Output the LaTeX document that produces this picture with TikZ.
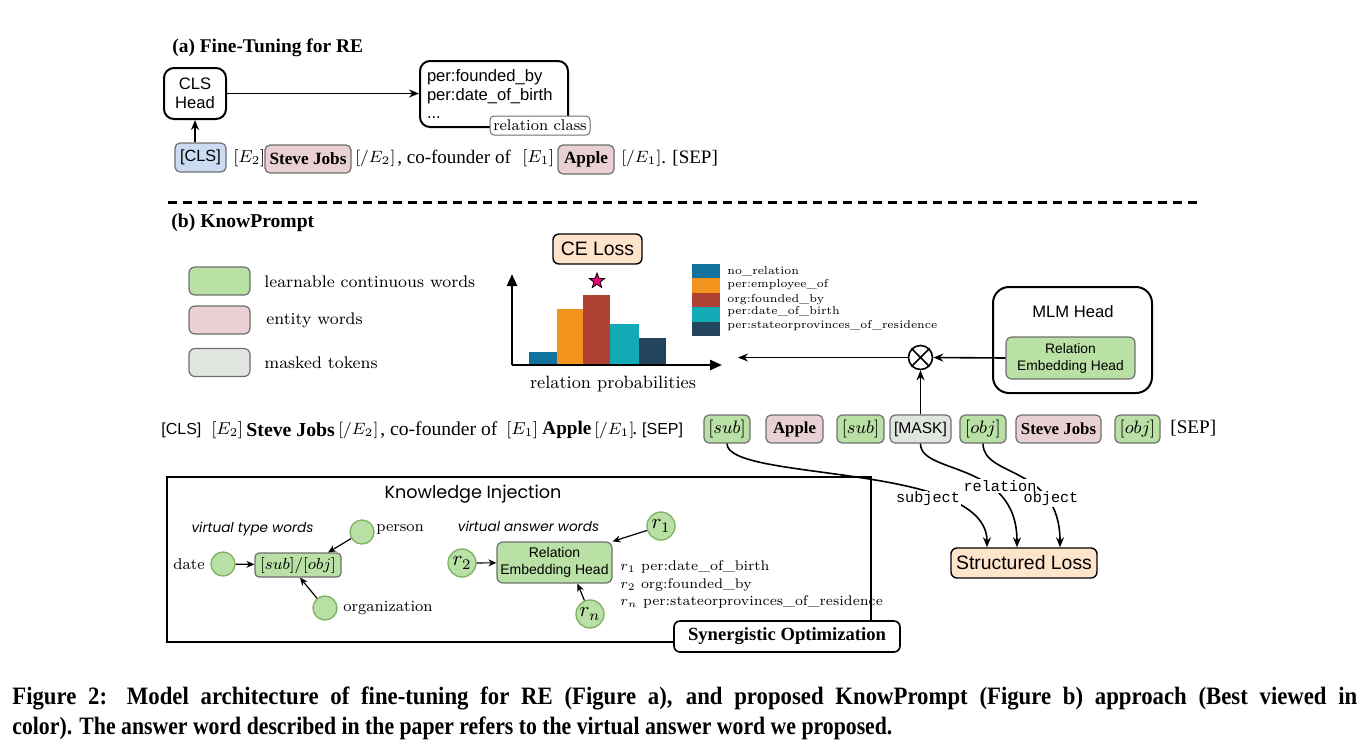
\RequirePackage{fix-cm}
\documentclass[tikz,border=0pt]{standalone}
\usepackage{fontspec}
\usepackage{graphicx}
\usetikzlibrary{arrows.meta,shapes.geometric}
\newfontfamily\helv{Liberation Sans}
\newfontfamily\tms{Liberation Serif}
\newfontfamily\cmc{Poppins}
\setmonofont{Liberation Mono}
\newcommand{\fsize}[2]{\fontsize{#1}{#2}\selectfont}
\definecolor{lgreen}{HTML}{B9E0A5}
\definecolor{lpink}{HTML}{E9D0D2}
\definecolor{lgray}{HTML}{E0E5DF}
\definecolor{lblue}{HTML}{CADBF2}
\definecolor{peach}{HTML}{FFE4CC}
\definecolor{tokborder}{HTML}{6E6E6E}
\definecolor{circborder}{HTML}{82B366}
\definecolor{barblue}{HTML}{10739E}
\definecolor{barorange}{HTML}{F2931E}
\definecolor{barred}{HTML}{AE4132}
\definecolor{barteal}{HTML}{12AAB5}
\definecolor{barnavy}{HTML}{23445D}
\definecolor{starpink}{HTML}{E6007E}
\begin{document}
\begin{tikzpicture}[x=0.5pt,y=-0.5pt,
  every node/.style={inner sep=0pt},
  txt/.style={anchor=west},
  tok/.style={draw=tokborder, line width=0.6pt, rounded corners=2.5pt, minimum height=14pt},
  greentok/.style={tok, fill=lgreen},
  pinktok/.style={tok, fill=lpink},
  graytok/.style={tok, fill=lgray},
  bluetok/.style={tok, fill=lblue},
  headbox/.style={draw, line width=1pt, rounded corners=5pt},
  lossbox/.style={draw, line width=0.7pt, rounded corners=3pt, fill=peach, font=\helv\fsize{9.7}{11}},
  vcirc/.style={circle, draw=circborder, fill=lgreen, line width=0.7pt},
  arr/.style={-{Stealth[length=5pt,width=4pt]}, line width=0.8pt},
  arrsmall/.style={-{Stealth[length=4pt,width=3.5pt]}, line width=0.6pt},
  axis/.style={-{Triangle[length=6pt,width=5pt]}, line width=1.2pt},
  flowlab/.style={fill=white, inner sep=0.5pt, font=\ttfamily\fsize{7.6}{9}},
  captxt/.style={anchor=west, font=\tms\bfseries\fsize{12.5}{14}},
  ]
\useasboundingbox (0,0) rectangle (1367,752);

% (a) fine-tuning
\node[txt, font=\tms\bfseries\fsize{9.7}{11}] (titlea) at (172,48) {(a) Fine-Tuning for RE};
\node[headbox, minimum width=31pt, minimum height=25.5pt, align=center, font=\helv\fsize{8.3}{9.5}] (clshead) at (195,93.5) {CLS\\Head};
\node[headbox, minimum width=74pt, minimum height=33pt, text width=67pt, align=left, font=\helv\fsize{8.3}{9.3}] (relset) at (494,94) {per:founded\_by\\per:date\_of\_birth\\...};
\node[draw=tokborder, fill=white, line width=0.5pt, rounded corners=2pt, minimum width=50pt, minimum height=9.5pt, font=\fsize{7.75}{9}] (relclass) at (540,125.5) {relation class};

\node[bluetok, minimum width=25.5pt, minimum height=14.5pt, font=\helv\fsize{8.1}{10}] (clsa) at (200.5,157.5) {[CLS]};
\node[txt, font=\fsize{8.6}{10}] (etwoa) at (233,158) {$[E_2]$};
\node[pinktok, minimum width=43pt, font=\tms\bfseries\fsize{8.6}{10}] (stevea) at (308,159) {Steve Jobs};
\node[txt, font=\fsize{8.2}{10}] (etwoenda) at (355,158) {$[/E_2]$};
\node[txt, font=\tms\fsize{9.5}{11}] (cofoundera) at (397,158) {, co-founder of};
\node[txt, font=\fsize{8.6}{10}] (eonea) at (522,158) {$[E_1]$};
\node[pinktok, minimum width=28pt, minimum height=14.5pt, font=\tms\bfseries\fsize{8.6}{10}] (applea) at (586,159.5) {Apple};
\node[txt, font=\fsize{8.2}{10}] (eoneenda) at (621,158) {$[/E_1]$};
\node[txt, font=\tms\fsize{9.5}{11}] (sepa) at (661,158) {. [SEP]};

\draw[arr] (clsa.north -| clshead.south) -- (clshead.south);
\draw[arr] (clshead.east) -- (clshead.east -| relset.west);

\draw[line width=1.5pt, dash pattern=on 4.5pt off 3pt] (168,202) -- (1197,202);

% (b) knowprompt
\node[txt, font=\tms\bfseries\fsize{9.8}{11}] (titleb) at (171,223) {(b) KnowPrompt};

\node[greentok, minimum width=30.5pt, rounded corners=3pt] (keylearn) at (219.5,281) {};
\node[pinktok, minimum width=30.5pt, rounded corners=3pt] (keyentity) at (219.5,320) {};
\node[graytok, minimum width=30.5pt, rounded corners=3pt] (keymask) at (219.5,362.5) {};
\node[txt, font=\fsize{8.4}{10}] (keylearntxt) at (264,282) {learnable continuous words};
\node[txt, font=\fsize{8.4}{10}] (keyentitytxt) at (266,320) {entity words};
\node[txt, font=\fsize{8.4}{10}] (keymasktxt) at (264,363) {masked tokens};

% relation probabilities
\foreach \xl/\xr/\yt/\col in {529/557/352/barblue, 557/583/309/barorange, 583/610/295/barred, 610/639/324/barteal, 639/666/338/barnavy}
  \fill[\col] (\xl,365) rectangle (\xr,\yt);
\coordinate (origin) at (512,365);
\coordinate (xend) at (722,365);
\coordinate (yend) at (512,274);
\draw[axis] (origin) -- (xend);
\draw[axis] (origin) -- (yend);
\foreach \i/\col/\lab/\ly in {0/barblue/no\_relation/271, 1/barorange/per:employee\_of/285, 2/barred/org:founded\_by/300, 3/barteal/per:date\_of\_birth/312, 4/barnavy/per:stateorprovinces\_of\_residence/326} {
  \fill[\col] (692,{264+14.4*\i}) rectangle (720,{278.4+14.4*\i});
  \node[txt, font=\fsize{5.7}{7}] (barkey\i) at (727,\ly) {\lab};
}
\node[lossbox, minimum width=44.5pt, minimum height=15pt] (celoss) at (597.5,249) {CE Loss};
\node[star, star points=5, star point ratio=2.4, fill=starpink, draw=black, line width=0.4pt, minimum size=8pt] (beststar) at (597,281) {};
\node[font=\fsize{8.9}{10}] (probtxt) at (613,384) {relation probabilities};

% mlm head
\node[headbox, minimum width=79.5pt, minimum height=53pt, rounded corners=8pt] (mlmhead) at (1072.5,340) {};
\node[font=\helv\fsize{8.3}{10}] (mlmtitle) at (1073,312) {MLM Head};
\node[greentok, minimum width=64.5pt, minimum height=21pt, rounded corners=3pt, align=center, font=\helv\fsize{6.9}{8.5}] (relhead) at (1070.5,358) {Relation\\Embedding Head};
\node[circle, draw, line width=0.8pt, minimum size=12pt] (otimes) at (920.5,357.5) {};
\draw[line width=0.8pt] (otimes.north west) -- (otimes.south east) (otimes.north east) -- (otimes.south west);
\coordinate (probin) at (738,357.5);

% prompt sequence
\node[txt, font=\helv\fsize{8}{10}] (clsb) at (161,430) {[CLS]};
\node[txt, font=\fsize{8.6}{10}] (etwob) at (211,430) {$[E_2]$};
\node[txt, font=\tms\bfseries\fsize{9.9}{12}] (steveb) at (246,430) {Steve Jobs};
\node[txt, font=\fsize{8.2}{10}] (etwoendb) at (338,430) {$[/E_2]$};
\node[txt, font=\tms\fsize{9.8}{12}] (cofounderb) at (380,430) {, co-founder of};
\node[txt, font=\fsize{8.6}{10}] (eoneb) at (506,430) {$[E_1]$};
\node[txt, font=\tms\bfseries\fsize{9.6}{12}] (appleb) at (542,430) {Apple};
\node[txt, font=\fsize{8.2}{10}] (eoneendb) at (594,430) {$[/E_1]$};
\node[txt, font=\tms\fsize{9.8}{12}] (sepb) at (632,430) {.\ {\helv\fsize{8}{10}[SEP]}};

\node[greentok, minimum width=23pt, font=\fsize{9}{10}] (subone) at (727,429) {$[sub]$};
\node[pinktok, minimum width=28.5pt, font=\tms\bfseries\fsize{8.4}{10}] (appletok) at (794.5,429) {Apple};
\node[greentok, minimum width=23.5pt, font=\fsize{9}{10}] (subtwo) at (860.5,429) {$[sub]$};
\node[graytok, minimum width=30.5pt, font=\helv\fsize{7.8}{9}] (mask) at (920.5,429) {[MASK]};
\node[greentok, minimum width=23pt, font=\fsize{9}{10}] (objone) at (983,429) {$[obj]$};
\node[pinktok, minimum width=42.5pt, font=\tms\bfseries\fsize{8.4}{10}] (stevetok) at (1058.5,429) {Steve Jobs};
\node[greentok, minimum width=22.5pt, font=\fsize{9}{10}] (objtwo) at (1137.5,429) {$[obj]$};
\node[txt, font=\tms\fsize{9.6}{11}] (septok) at (1170,428) {[SEP]};

\draw[arr] (otimes.west) -- (probin);
\draw[arr] (relhead.west) -- (otimes.east);
\draw[arr] (mask.north) -- (otimes.south);

% structured loss
\node[lossbox, minimum width=73pt, minimum height=15pt] (sloss) at (1024,563) {Structured Loss};
\draw[arr] (subone.south) .. controls (727,482) and (987,462) .. ([xshift=-18.5pt]sloss.north);
\draw[arr] (mask.south) .. controls (920,475) and (1017,460) .. ([xshift=-3.5pt]sloss.north);
\draw[arr] (objone.south) .. controls (983,478) and (1060,465) .. ([xshift=18pt]sloss.north);
\node[flowlab] (subjlab) at (928,499) {subject};
\node[flowlab] (rellab) at (1000,486) {relation};
\node[flowlab] (objlab) at (1051,499) {object};

% knowledge injection
\node[draw, line width=0.8pt, minimum width=352pt, minimum height=82.5pt] (kibox) at (519,559.5) {};
\node[font=\cmc\fsize{8.8}{11}] (kititle) at (473,494) {Knowledge Injection};
\node[font=\cmc\itshape\fsize{6.8}{9}] (typetxt) at (252.5,529) {virtual type words};
\node[vcirc, minimum size=12pt] (datec) at (223,564) {};
\node[font=\fsize{7.8}{9}] (datetxt) at (189,564) {date};
\node[greentok, minimum width=43pt, minimum height=12pt, rounded corners=2pt, font=\fsize{8}{10}] (subobj) at (298,565) {$[sub]/[obj]$};
\node[vcirc, minimum size=12pt] (personc) at (362,532) {};
\node[txt, font=\fsize{7.8}{9}] (persontxt) at (376,530) {person};
\node[vcirc, minimum size=12pt] (orgc) at (325,608) {};
\node[txt, font=\fsize{7.8}{9}] (orgtxt) at (343,608) {organization};
\draw[arrsmall] (datec) -- (subobj);
\draw[arrsmall] (personc) -- ([xshift=15pt]subobj.north);
\draw[arrsmall] (orgc) -- ([xshift=1pt]subobj.south);

\node[font=\cmc\itshape\fsize{6.8}{9}] (answertxt) at (528.5,526) {virtual answer words};
\node[greentok, minimum width=57.5pt, minimum height=20.5pt, rounded corners=3pt, align=center, font=\helv\fsize{7}{8.5}] (relhead2) at (554.5,562.5) {Relation\\Embedding Head};
\node[vcirc, minimum size=14pt, font=\fsize{10.5}{12}] (rone) at (661,526) {$r_1$};
\node[vcirc, minimum size=14pt, font=\fsize{10.5}{12}] (rtwo) at (462,563) {$r_2$};
\node[vcirc, minimum size=14pt, font=\fsize{10.5}{12}] (rn) at (590,614) {$r_n$};
\draw[arrsmall] (rone) -- (relhead2.north east);
\draw[arrsmall] (rtwo) -- (relhead2);
\draw[arrsmall] (rn) -- ([xshift=11.5pt]relhead2.south);
\node[txt, align=left, font=\fsize{7}{8.75}] (rlist) at (620,584.5) {$r_1$ per:date\_of\_birth\\$r_2$ org:founded\_by\\$r_n$ per:stateorprovinces\_of\_residence};
\node[draw, fill=white, line width=0.8pt, rounded corners=3pt, minimum width=113pt, minimum height=15.5pt, font=\tms\bfseries\fsize{9.3}{11}] (synopt) at (787,636.5) {Synergistic Optimization};

% caption
\node[captxt] (capone) at (12,698) {\scalebox{0.91}[1]{\makebox[739pt][s]{Figure 2: Model architecture of fine-tuning for RE (Figure a), and proposed KnowPrompt (Figure b) approach (Best viewed in}}};
\node[captxt] (captwo) at (12,728) {\scalebox{0.87}[1]{color). The answer word described in the paper refers to the virtual answer word we proposed.}};
\end{tikzpicture}
\end{document}
